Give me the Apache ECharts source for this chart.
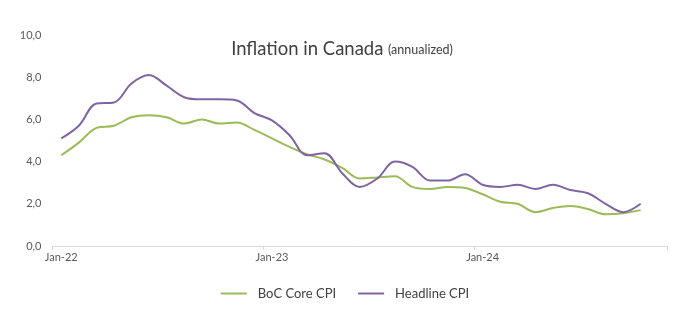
<!DOCTYPE html>
<html><head><meta charset="utf-8">
<script src="https://cdn.jsdelivr.net/npm/echarts@6/dist/echarts.min.js"></script>
<style>html,body{margin:0;padding:0;background:#fff}#c{width:690px;height:327px}</style>
</head><body><div id="c"></div>
<script>
const months = ['Jan','Feb','Mar','Apr','May','Jun','Jul','Aug','Sep','Oct','Nov','Dec'];
const categories = [];
for (const yy of ['22','23','24']) for (const m of months) categories.push(m + '-' + yy);
categories.splice(35); // Jan-22 .. Nov-24

const coreCPI = [4.3,4.9,5.6,5.7,6.1,6.2,6.1,5.8,6.0,5.8,5.85,5.5,
                 5.1,4.7,4.35,4.1,3.7,3.2,3.25,3.3,2.8,2.7,2.8,2.75,
                 2.45,2.1,2.0,1.6,1.8,1.9,1.75,1.5,1.55,1.7,null];
const headlineCPI = [5.1,5.7,6.75,6.8,7.7,8.1,7.6,7.05,6.95,6.95,6.9,6.3,
                     5.95,5.25,4.3,4.4,3.45,2.8,3.2,4.0,3.75,3.1,3.1,3.4,
                     2.9,2.8,2.9,2.7,2.9,2.65,2.5,2.0,1.6,2.0,null];
const seriesNames = ['BoC Core CPI','Headline CPI'];

const font = 'Lato, "Open Sans", sans-serif';
const chart = echarts.init(document.getElementById('c'), null, {renderer:'canvas'});
chart.setOption({
  animation:false,
  textStyle:{fontFamily:font},
  title:{
    text:'{a|Inflation in Canada} {b|(annualized)}',
    left:337, top:35, textAlign:'center',
    textStyle:{fontWeight:'normal', rich:{
      a:{fontSize:18.5, color:'#404040', fontFamily:font, fontWeight:'normal'},
      b:{fontSize:12.5, color:'#404040', fontFamily:font, fontWeight:'normal'}
    }}
  },
  legend:{
    data:seriesNames, bottom:22, left:'center', itemGap:22,
    itemWidth:26, itemHeight:2, icon:'rect',
    textStyle:{fontSize:13, color:'#404040', fontFamily:font, padding:[0,0,0,6]}
  },
  grid:{left:52.5, right:23, top:35, bottom:81},
  xAxis:{
    type:'category', data:categories, boundaryGap:true,
    axisLine:{lineStyle:{color:'#d9d9d9', width:1}},
    axisTick:{show:true, interval:11, length:4, lineStyle:{color:'#d9d9d9'}},
    axisLabel:{interval:11, color:'#595959', fontSize:11, margin:6, fontFamily:font}
  },
  yAxis:{
    type:'value', min:0, max:10, interval:2,
    axisLine:{show:false}, axisTick:{show:false}, splitLine:{show:false},
    axisLabel:{color:'#595959', fontSize:11, margin:11, fontFamily:font,
      formatter:v=>v.toFixed(1).replace('.',',')}
  },
  series:[
    {name:seriesNames[0], type:'line', data:coreCPI, smooth:0.35, showSymbol:false,
     lineStyle:{color:'#9BBB59', width:2}, itemStyle:{color:'#9BBB59'}},
    {name:seriesNames[1], type:'line', data:headlineCPI, smooth:0.35, showSymbol:false,
     lineStyle:{color:'#8064A2', width:2}, itemStyle:{color:'#8064A2'}}
  ]
});
</script></body></html>
